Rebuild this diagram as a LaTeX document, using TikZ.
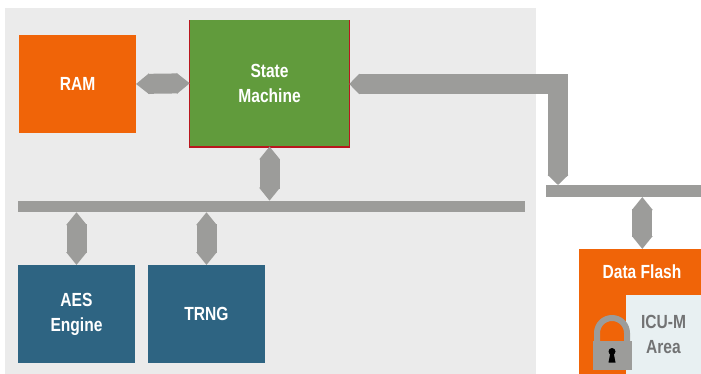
\documentclass[tikz,border=0pt]{standalone}
\usepackage{fontspec}
\setmainfont{Liberation Sans}[FakeStretch=0.82]
\usetikzlibrary{shapes, arrows.meta, positioning}
\definecolor{panelgray}{HTML}{EBEBEB}
\definecolor{busgray}{HTML}{9C9C9A}
\definecolor{flashorange}{HTML}{F06408}
\definecolor{machinegreen}{HTML}{619B3C}
\definecolor{machinered}{HTML}{B9161E}
\definecolor{engineblue}{HTML}{2E6482}
\definecolor{areablue}{HTML}{E8F0F2}
\definecolor{areatext}{HTML}{727374}
\tikzstyle{every node}=[font=\fontsize{19}{25}\selectfont\bfseries,outer sep=0pt,inner sep=0pt,align=center]
\tikzstyle{block}=[rectangle,text=white,anchor=north west]
\tikzstyle{busbar}=[rectangle,fill=busgray,anchor=north west]
\tikzstyle{link}=[draw=busgray,line width=20pt,{Triangle[width=20pt,length=13pt]}-{Triangle[width=20pt,length=13pt]}]
\tikzstyle{longlink}=[draw=busgray,line width=20pt,{Triangle[width=20pt,length=10pt]}-{Triangle[width=20pt,length=10pt]}]

\begin{document}
\begin{tikzpicture}[x=1pt,y=-1pt]
    \useasboundingbox (0,0) rectangle (701,374);
    \fill[panelgray] (5,8) rectangle (536,374);

    \node[block, fill=flashorange, minimum width=117pt, minimum height=98pt] at (19,35) (ram) {RAM};
    \fill[machinered] (189.2,20) rectangle (350,148);
    \node[block, fill=machinegreen, minimum width=159.5pt, minimum height=126.5pt] at (189.8,20) (machine) {State\\Machine};
    \draw[link] (ram.east) -- (machine.west);

    \node[busbar, minimum width=507pt, minimum height=11.5pt] at (18,200.7) (bus) {};
    \draw[link] (machine.south) -- (machine.south |- bus.north);

    \node[block, fill=engineblue, minimum width=117pt, minimum height=98pt] at (18,265) (aes) {AES\\Engine};
    \node[block, fill=engineblue, minimum width=117pt, minimum height=98pt, right=13pt of aes.north east, anchor=north west] (trng) {TRNG};
    \draw[link] (aes.north) -- (aes.north |- bus.south);
    \draw[link] (trng.north) -- (trng.north |- bus.south);

    \node[busbar, minimum width=155pt, minimum height=12pt] at (546,185) (flashbus) {};
    \coordinate (flashin) at (558,185);
    \draw[longlink] (machine.east |- 0,84) -| (flashin);

    \node[block, fill=flashorange, minimum width=122pt, minimum height=125pt] at (579,249) (flash) {};
    \node[text=white] at (642,272) (flashlabel) {Data Flash};
    \draw[link] ([xshift=2.3pt]flash.north) -- ([xshift=2.3pt]flash.north |- flashbus.south);
    \node[block, fill=areablue, text=areatext, minimum width=75pt, minimum height=79pt] at (626,295) (area) {ICU-M\\Area};

    % lock
    \draw[busgray, line width=6pt] (597,342) -- (597,333) arc[start angle=180, end angle=0, radius=15pt] -- (627,342);
    \fill[busgray] (593,340.7) rectangle (632,370);
    \fill[black] (612,351.5) circle (3.5pt);
    \fill[black] (610.5,352) -- (613.5,352) -- (615.5,362.5) -- (608.5,362.5) -- cycle;
\end{tikzpicture}
\end{document}
